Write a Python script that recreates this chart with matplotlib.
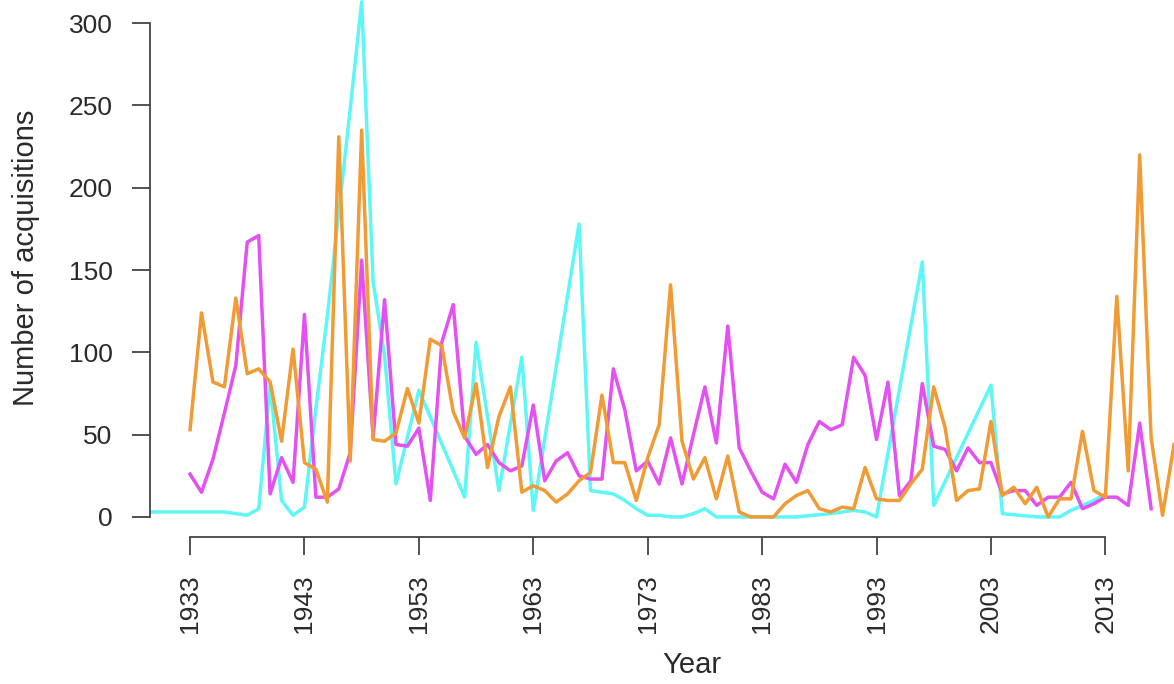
import numpy as np
import matplotlib
matplotlib.use("Agg")
import matplotlib.pyplot as plt

plt.rcParams['font.family'] = ['Liberation Sans', 'DejaVu Sans']

# cyan series (only the years where the line has a point)
cyan_years = [1929, 1933, 1936, 1938, 1939, 1940, 1941, 1942, 1943, 1944, 1945,
              1946, 1947, 1948, 1949, 1950, 1951, 1953, 1957, 1958, 1960, 1962,
              1963, 1967, 1968, 1970, 1971, 1972, 1973, 1974, 1975, 1976, 1977,
              1978, 1979, 1986, 1989, 1991, 1992, 1993, 1997, 1998, 2003, 2004,
              2007, 2009, 2010, 2011, 2012, 2013]
cyan_vals = [3, 3, 3, 1, 5, 80, 10, 1, 6, 66, 122,
             185, 248, 313, 143, 98, 20, 77, 12, 106, 16, 97,
             4, 178, 16, 14, 10, 5, 1, 1, 0, 0, 2,
             5, 0, 0, 2, 4, 3, 0, 155, 7, 80, 2,
             0, 0, 4, 7, 10, 14]

years = list(range(1933, 2020))

magenta_vals = [26, 15, 35, 63, 92, 167, 171, 14, 36, 21,
                123, 12, 12, 17, 39, 156, 48, 132, 44, 43,
                54, 10, 106, 129, 49, 38, 44, 33, 28, 31,
                68, 22, 34, 39, 25, 23, 23, 90, 65, 28,
                34, 20, 48, 20, 50, 79, 45, 116, 42, 28,
                15, 11, 32, 21, 44, 58, 53, 56, 97, 86,
                47, 82, 13, 22, 81, 43, 41, 28, 42, 33,
                33, 14, 16, 16, 7, 12, 12, 21, 5, 8,
                12, 12, 7, 57, 5]

orange_vals = [53, 124, 82, 79, 133, 87, 90, 82, 46, 102,
               33, 29, 9, 231, 34, 235, 47, 46, 51, 78,
               57, 108, 104, 64, 48, 81, 30, 61, 79, 15,
               19, 16, 9, 14, 22, 27, 74, 33, 33, 10,
               36, 56, 141, 46, 23, 36, 11, 37, 3, 0,
               0, 0, 8, 13, 16, 5, 3, 6, 5, 30,
               11, 10, 10, 20, 29, 79, 54, 10, 16, 17,
               58, 13, 18, 8, 18, 0, 11, 11, 52, 16,
               12, 134, 28, 220, 48, 1, 44]

x_ticks = list(range(1933, 2014, 10))
y_ticks = list(range(0, 301, 50))

fig = plt.figure(figsize=(11.74, 6.84), dpi=100)
ax = fig.add_axes([150 / 1174, (684 - 537) / 684, 1024 / 1174, 537 / 684])

lw = 2.5
ax.plot(cyan_years, cyan_vals, color='#5ef7f5', lw=lw)
ax.plot(years[:len(magenta_vals)], magenta_vals, color='#e451f2', lw=lw)
ax.plot(years[:len(orange_vals)], orange_vals, color='#f09b33', lw=lw)

ax.set_xlim(1929.5, 2019.0)
ax.set_ylim(-12.2, 314.1)

# R-like axes: no box, axis lines only between first and last tick
ax.spines['top'].set_visible(False)
ax.spines['right'].set_visible(False)
ax.spines['left'].set_bounds(0, 300)
ax.spines['bottom'].set_bounds(1933, 2013)
for s in ('left', 'bottom'):
    ax.spines[s].set_color('#444444')
    ax.spines[s].set_linewidth(1.3)

ax.set_xticks(x_ticks)
ax.set_yticks(y_ticks)
ax.set_xticklabels([str(y) for y in x_ticks], rotation=90)
ax.tick_params(axis='both', length=13, width=1.3, color='#444444',
               labelsize=19, labelcolor='#2a2a2a', pad=14)

fig.text(692 / 1174, 1 - 665 / 684, 'Year', fontsize=21, color='#2a2a2a',
         ha='center', va='center')
fig.text(26 / 1174, 1 - 258 / 684, 'Number of acquisitions', fontsize=21,
         color='#2a2a2a', ha='center', va='center', rotation=90)

fig.savefig('out.png', dpi=100)
